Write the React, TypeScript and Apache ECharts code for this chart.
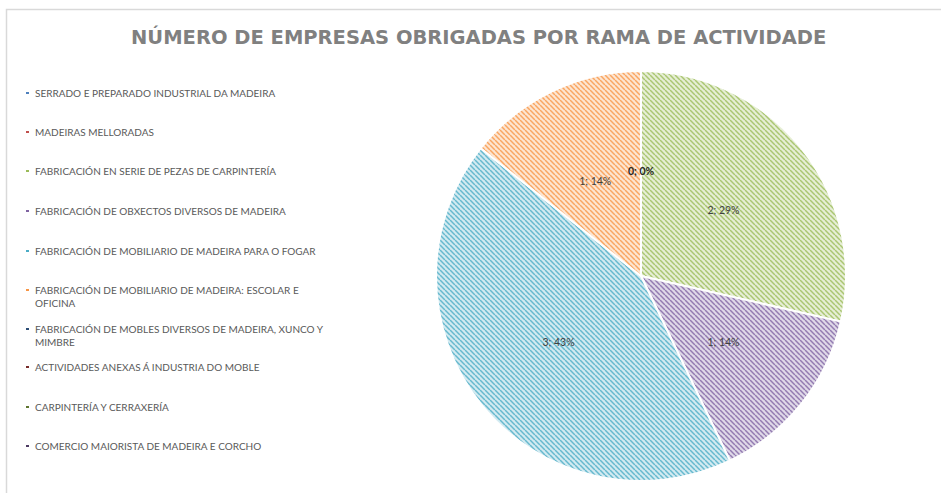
import React, { useEffect, useRef } from 'react';
import * as echarts from 'echarts';

const TITLE = 'NÚMERO DE EMPRESAS OBRIGADAS POR RAMA DE ACTIVIDADE';
const categories = [
  'SERRADO E PREPARADO INDUSTRIAL DA MADEIRA',
  'MADEIRAS MELLORADAS',
  'FABRICACIÓN EN SERIE DE PEZAS DE CARPINTERÍA',
  'FABRICACIÓN DE OBXECTOS DIVERSOS DE MADEIRA',
  'FABRICACIÓN DE MOBILIARIO DE MADEIRA PARA O FOGAR',
  'FABRICACIÓN DE MOBILIARIO DE MADEIRA: ESCOLAR E OFICINA',
  'FABRICACIÓN DE MOBLES DIVERSOS DE MADEIRA, XUNCO Y MIMBRE',
  'ACTIVIDADES ANEXAS Á INDUSTRIA DO MOBLE',
  'CARPINTERÍA Y CERRAXERÍA',
  'COMERCIO MAIORISTA DE MADEIRA E CORCHO',
];
const values = [0, 0, 2, 1, 3, 1, 0, 0, 0, 0];
const colors = ['#4F81BD', '#C0504D', '#9BBB59', '#8064A2', '#4BACC6', '#F79646', '#2C4D75', '#772C2A', '#5F7530', '#4D3B62'];
const legendCenters = [93, 132, 171, 211, 251, 296.5, 335.5, 367, 407, 446];

const WRAPPED: Record<string, string> = {
  [categories[5]]: 'FABRICACIÓN DE MOBILIARIO DE MADEIRA: ESCOLAR E\nOFICINA',
  [categories[6]]: 'FABRICACIÓN DE MOBLES DIVERSOS DE MADEIRA, XUNCO Y\nMIMBRE',
};

function hatch(color: string) {
  const s = 5;
  const c = document.createElement('canvas');
  c.width = s; c.height = s;
  const ctx = c.getContext('2d')!;
  ctx.fillStyle = '#ffffff';
  ctx.fillRect(0, 0, s, s);
  ctx.globalAlpha = 0.25;
  ctx.fillStyle = color;
  ctx.fillRect(0, 0, s, s);
  ctx.globalAlpha = 0.8;
  ctx.strokeStyle = color;
  ctx.lineWidth = 1.5;
  for (const o of [-s, 0, s]) {
    ctx.beginPath();
    ctx.moveTo(o, 0);
    ctx.lineTo(o + s, s);
    ctx.stroke();
  }
  return { image: c, repeat: 'repeat', imageWidth: s, imageHeight: s } as any;
}

export default function App() {
  const ref = useRef<HTMLDivElement>(null);
  useEffect(() => {
    if (!ref.current) return;
    const chart = echarts.init(ref.current, undefined, { renderer: 'svg' });
    const legends = categories.map((name, i) => {
      const wrapped = !!WRAPPED[name];
      return {
        data: [{ name, itemStyle: { color: colors[i] } }],
        orient: 'vertical',
        left: 24,
        top: legendCenters[i] - (wrapped ? 13 : 6.5),
        padding: 0,
        icon: wrapped ? 'path://M0,0L5,0L5,4L0,4Z M0,17L0.01,17Z' : 'rect',
        itemWidth: 5,
        itemHeight: wrapped ? 17 : 4,
        selectedMode: false,
        formatter: (n: string) => WRAPPED[n] || n,
        textStyle: { color: '#595959', fontSize: 10, fontFamily: 'Lato', lineHeight: 13 },
      };
    });
    chart.setOption({
      animation: false,
      backgroundColor: '#ffffff',
      title: {
        text: TITLE,
        left: 131,
        top: 27,
        padding: 0,
        textStyle: { color: '#808080', fontSize: 19.5, fontWeight: 'bold', fontFamily: 'DejaVu Sans' },
      },
      legend: legends,
      graphic: [
        {
          type: 'rect',
          shape: { x: 6.5, y: 9.5, width: 1200, height: 1200 },
          style: { fill: 'none', stroke: '#D9D9D9', lineWidth: 1.5 },
          silent: true,
        },
      ],
      series: [
        {
          type: 'pie',
          center: [641, 276],
          radius: 205,
          startAngle: 90,
          clockwise: true,
          percentPrecision: 0,
          avoidLabelOverlap: false,
          data: categories.map((name, i) => ({
            name,
            value: values[i],
            itemStyle: { color: hatch(colors[i]) },
            label: values[i] === 0 ? { fontWeight: 'bold', color: '#262626' } : {},
          })),
          itemStyle: { borderColor: '#ffffff', borderWidth: 2 },
          label: {
            show: true,
            position: 'inside',
            formatter: '{c}; {d}%',
            color: '#404040',
            fontSize: 10.5,
            fontFamily: 'Lato',
          },
          labelLine: { show: false },
          emphasis: { disabled: true },
        },
      ],
    });
    return () => chart.dispose();
  }, []);
  return (
    <div
      ref={ref}
      style={{ position: 'absolute', left: 0, top: 0, width: 941, height: 493 }}
    />
  );
}
